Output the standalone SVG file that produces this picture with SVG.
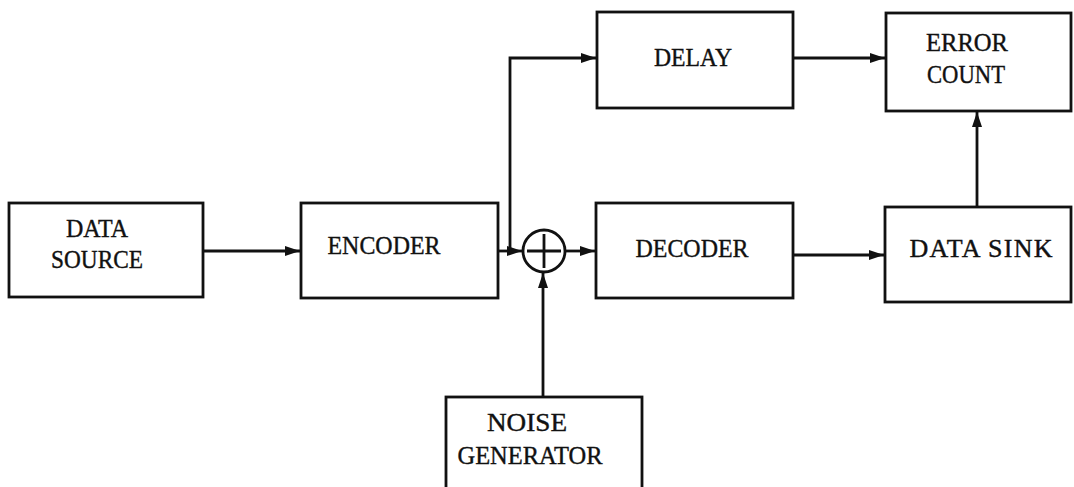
<svg xmlns="http://www.w3.org/2000/svg" width="1074" height="487" viewBox="0 0 1074 487">
<style>
.box{fill:none;stroke:#111;stroke-width:2.8}
.lbl{font-family:"Liberation Serif","Times New Roman",serif;font-size:26px;fill:#111;stroke:#111;stroke-width:0.4;text-anchor:middle}
.wire{fill:none;stroke:#111;stroke-width:2.8}
</style>
<defs>
<marker id="arr" markerUnits="userSpaceOnUse" markerWidth="16" markerHeight="12" refX="15" refY="6" orient="auto">
<path d="M0,1 L15,6 L0,11 z" fill="#111"/>
</marker>
</defs>
<rect width="1074" height="487" fill="#fff"/>
<g id="data-source">
<rect class="box" x="9" y="203" width="194" height="94"/>
<text class="lbl" x="97" y="237" textLength="62" lengthAdjust="spacingAndGlyphs">DATA</text>
<text class="lbl" x="97" y="268" textLength="92" lengthAdjust="spacingAndGlyphs">SOURCE</text>
</g>
<g id="encoder">
<rect class="box" x="301" y="203" width="197" height="95"/>
<text class="lbl" x="384" y="254" textLength="113" lengthAdjust="spacingAndGlyphs">ENCODER</text>
</g>
<g id="adder">
<circle cx="544" cy="251" r="21" fill="none" stroke="#111" stroke-width="2.8"/>
<path d="M527,251 H561 M544,234 V268" stroke="#111" stroke-width="2.8"/>
</g>
<g id="delay">
<rect class="box" x="597" y="12" width="196" height="96"/>
<text class="lbl" x="693" y="66" textLength="78" lengthAdjust="spacingAndGlyphs">DELAY</text>
</g>
<g id="decoder">
<rect class="box" x="596" y="203" width="197" height="95"/>
<text class="lbl" x="692" y="257" textLength="113" lengthAdjust="spacingAndGlyphs">DECODER</text>
</g>
<g id="error-count">
<rect class="box" x="886" y="13" width="185" height="98"/>
<text class="lbl" x="967" y="51" textLength="82" lengthAdjust="spacingAndGlyphs">ERROR</text>
<text class="lbl" x="966" y="83" textLength="78" lengthAdjust="spacingAndGlyphs">COUNT</text>
</g>
<g id="data-sink">
<rect class="box" x="885" y="207" width="186" height="95"/>
<text class="lbl" x="981" y="257" textLength="143" lengthAdjust="spacing">DATA SINK</text>
</g>
<g id="noise-generator">
<rect class="box" x="446" y="397" width="196" height="100"/>
<text class="lbl" x="527" y="431" textLength="80" lengthAdjust="spacingAndGlyphs">NOISE</text>
<text class="lbl" x="530" y="464" textLength="145" lengthAdjust="spacingAndGlyphs">GENERATOR</text>
</g>
<g id="connectors">
<path class="wire" d="M203,251 H300" marker-end="url(#arr)"/>
<path class="wire" d="M498,251 H522" marker-end="url(#arr)"/>
<path class="wire" d="M510,251 V58 H596" marker-end="url(#arr)"/>
<path class="wire" d="M565,251 H595" marker-end="url(#arr)"/>
<path class="wire" d="M793,58 H885" marker-end="url(#arr)"/>
<path class="wire" d="M793,255 H884" marker-end="url(#arr)"/>
<path class="wire" d="M977,207 V112" marker-end="url(#arr)"/>
<path class="wire" d="M543,397 V273" marker-end="url(#arr)"/>
</g>
</svg>
